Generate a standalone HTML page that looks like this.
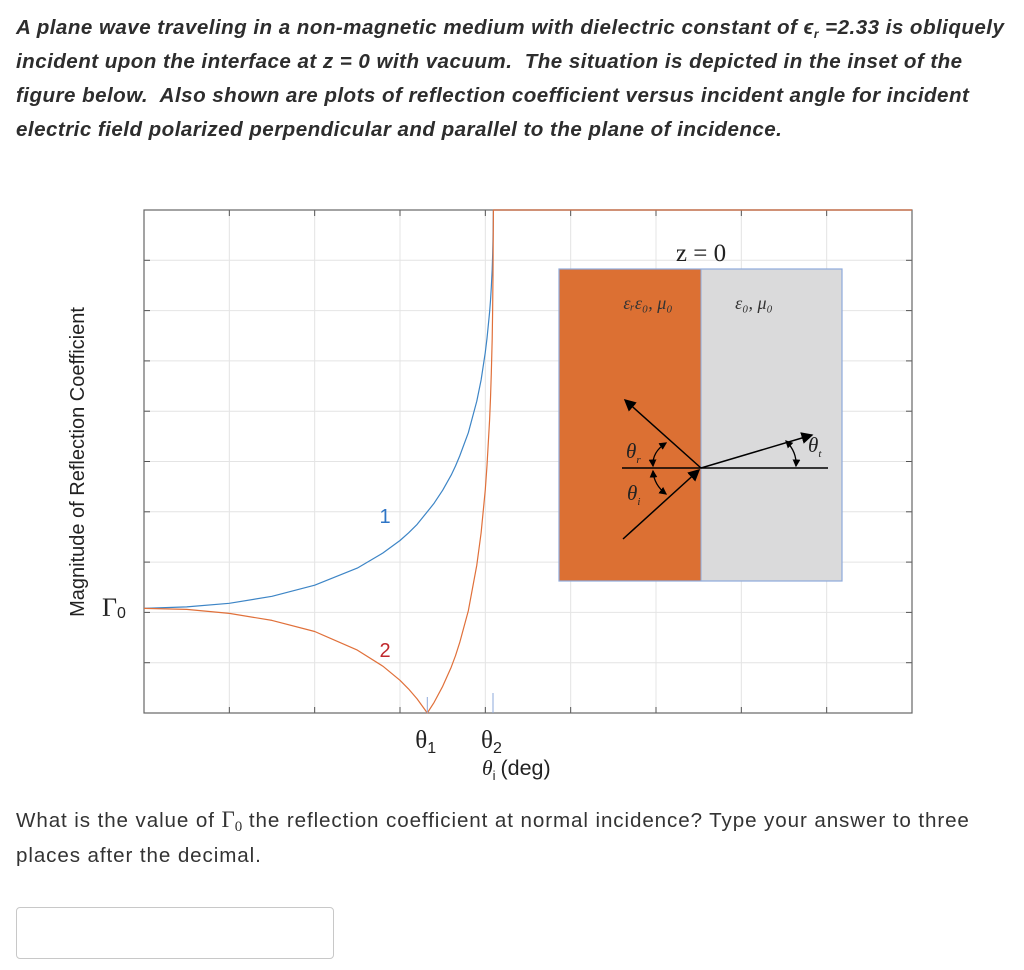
<!DOCTYPE html>
<html><head><meta charset="utf-8"><style>
body{margin:0;width:1024px;height:970px;background:#fff;font-family:"Liberation Sans",sans-serif;color:#333;position:relative;overflow:hidden}
.hdr{position:absolute;left:16px;top:11px;width:1006px;font-size:20.6px;letter-spacing:0.45px;font-weight:bold;font-style:italic;line-height:34px;color:#2d2d2d}
.hdr sub{font-size:12px;line-height:0;vertical-align:-4px}
.q{position:absolute;left:16px;top:802px;width:1000px;font-size:20.6px;letter-spacing:0.9px;line-height:35px;color:#333}
.q sub{line-height:0;vertical-align:-4px}
.inp{position:absolute;left:16px;top:907px;width:318px;height:52px;border:1px solid #c8c8c8;border-radius:4px;box-sizing:border-box}
</style></head><body>
<div class="hdr">A plane wave traveling in a non-magnetic medium with dielectric constant of ϵ<sub>r</sub> =2.33 is obliquely incident upon the interface at z = 0 with vacuum.&nbsp; The situation is depicted in the inset of the figure below.&nbsp; Also shown are plots of reflection coefficient versus incident angle for incident electric field polarized perpendicular and parallel to the plane of incidence.</div>
<svg id="chart" width="1024" height="800" style="position:absolute;left:0;top:0" xmlns="http://www.w3.org/2000/svg"></svg>
<div class="q">What is the value of <span style="font-family:'Liberation Serif',serif;font-size:23px;letter-spacing:0">Γ<sub style="font-size:15px">0</sub></span> the reflection coefficient at normal incidence? Type your answer to three places after the decimal.</div>
<div class="inp"></div>
<script>
const angles=[0,5,10,15,20,25,28,30,31,32,33.2,34,35,36,36.5,37,38,39,39.5,40,40.2,40.5,40.6,40.7,40.8,40.85,40.9,40.95,45,60,75,90];
const perpVals=[0.208,0.211,0.218,0.232,0.254,0.288,0.318,0.343,0.358,0.375,0.40,0.417,0.443,0.473,0.491,0.511,0.557,0.620,0.662,0.717,0.745,0.797,0.820,0.846,0.882,0.907,0.942,1,1,1,1,1];
const parVals=[0.208,0.206,0.198,0.184,0.162,0.125,0.093,0.065,0.048,0.028,0,0.021,0.053,0.091,0.114,0.140,0.203,0.294,0.358,0.444,0.492,0.583,0.626,0.675,0.744,0.796,0.871,1,1,1,1,1];
const xTicks=[0,10,20,30,40,50,60,70,80,90];
const yTicks=[0,0.1,0.2,0.3,0.4,0.5,0.6,0.7,0.8,0.9,1.0];
const markers=[33.2,40.9];
const NS="http://www.w3.org/2000/svg";
const svg=document.getElementById('chart');
const X0=144,X1=912,Y0=713,Y1=210;
const xs=v=>X0+(v/90)*(X1-X0);
const ys=v=>Y0-v*(Y0-Y1);
function mk(t,a,p){const e=document.createElementNS(NS,t);for(const k in a)e.setAttribute(k,a[k]);(p||svg).appendChild(e);return e;}
const grid=mk('g',{});


xTicks.forEach(t=>{const x=xs(t);
 const l=mk('line',{x1:x,x2:x,y1:Y1,y2:Y0,stroke:'#e4e4e4','stroke-width':1},grid);
 
 
 const a=mk('line',{x1:x,x2:x,y1:Y0,y2:Y0-6,stroke:'#555'},grid);
 
 
 const b=mk('line',{x1:x,x2:x,y1:Y1,y2:Y1+6,stroke:'#555'},grid);
 
 
});
yTicks.forEach(t=>{const y=ys(t);
 const l=mk('line',{x1:X0,x2:X1,y1:y,y2:y,stroke:'#e4e4e4'},grid);
 
 
 const a=mk('line',{x1:X0,x2:X0+6,y1:y,y2:y,stroke:'#555'},grid);
 
 
 const b=mk('line',{x1:X1,x2:X1-6,y1:y,y2:y,stroke:'#555'},grid);
 
 
});
const frame=mk('rect',{x:X0,y:Y1,width:X1-X0,height:Y0-Y1,fill:'none',stroke:'#666','stroke-width':1.2});


const inset=mk('g',{});


mk('rect',{x:559,y:269,width:142,height:312,fill:'#dc7033'},inset);
mk('rect',{x:701,y:269,width:141,height:312,fill:'#dadadb'},inset);
mk('rect',{x:559,y:269,width:283,height:312,fill:'none',stroke:'#8eaadb','stroke-width':1.2},inset);
mk('line',{x1:701,x2:701,y1:269,y2:581,stroke:'#8eaadb'},inset);
const zt=mk('text',{x:701,y:261,'text-anchor':'middle','font-family':'Liberation Serif,serif','font-size':25,fill:'#222'},inset);zt.textContent='z = 0';


const t1=mk('text',{x:648,y:309,'text-anchor':'middle','font-family':'Liberation Serif,serif','font-style':'italic','font-size':18,fill:'#333'},inset);t1.textContent='εᵣε₀, μ₀';


const t2=mk('text',{x:754,y:309,'text-anchor':'middle','font-family':'Liberation Serif,serif','font-style':'italic','font-size':18,fill:'#333'},inset);t2.textContent='ε₀, μ₀';


const defs=mk('defs',{});
const m=mk('marker',{id:'ah',markerWidth:8,markerHeight:8,refX:7,refY:4,orient:'auto'},defs);
mk('path',{d:'M0,0 L8,4 L0,8 z',fill:'#000'},m);
const m2=mk('marker',{id:'ah2',markerWidth:6,markerHeight:6,refX:5,refY:3,orient:'auto-start-reverse'},defs);
mk('path',{d:'M0,0 L6,3 L0,6 z',fill:'#000'},m2);
mk('line',{x1:622,x2:828,y1:468,y2:468,stroke:'#000','stroke-width':1.5},inset);
mk('line',{x1:701,y1:468,x2:625,y2:400,stroke:'#000','stroke-width':1.5,'marker-end':'url(#ah)'},inset);
mk('line',{x1:623,y1:539,x2:699,y2:470,stroke:'#000','stroke-width':1.5,'marker-end':'url(#ah)'},inset);
mk('line',{x1:701,y1:468,x2:812,y2:435,stroke:'#000','stroke-width':1.5,'marker-end':'url(#ah)'},inset);
mk('path',{d:'M666,443 Q652,452 653,466',fill:'none',stroke:'#000','stroke-width':1.3,'marker-start':'url(#ah2)','marker-end':'url(#ah2)'},inset);
mk('path',{d:'M653,471 Q654,485 666,494',fill:'none',stroke:'#000','stroke-width':1.3,'marker-start':'url(#ah2)','marker-end':'url(#ah2)'},inset);
mk('path',{d:'M786,441 Q797,452 796,466',fill:'none',stroke:'#000','stroke-width':1.3,'marker-start':'url(#ah2)','marker-end':'url(#ah2)'},inset);
[['θ',626,458,'r'],['θ',627,500,'i'],['θ',808,452,'t']].forEach(a=>{const t=mk('text',{x:a[1],y:a[2],'font-family':'Liberation Serif,serif','font-style':'italic','font-size':21,fill:'#222'},inset);t.textContent=a[0];const s=mk('tspan',{'font-size':11,dy:5},t);s.textContent=a[3];
 
 });
function path(vals){return angles.map((a,i)=>(i?'L':'M')+xs(a).toFixed(1)+','+ys(vals[i]).toFixed(1)).join(' ');}
const c1=mk('path',{d:path(perpVals),fill:'none',stroke:'#3d85c6','stroke-width':1.2,'stroke-linejoin':'round'});


const c2=mk('path',{d:path(parVals),fill:'none',stroke:'#e0703a','stroke-width':1.2,'stroke-linejoin':'round'});


markers.forEach((a,i)=>{const l=mk('line',{x1:xs(a),x2:xs(a),y1:Y0,y2:Y0-(i?20:16),stroke:'#8eaadb','stroke-width':1});
 
 });
const l1=mk('text',{x:385,y:523,'text-anchor':'middle','font-size':20,fill:'#2e75c6'});l1.textContent='1';


const l2=mk('text',{x:385,y:657,'text-anchor':'middle','font-size':20,fill:'#c0282c'});l2.textContent='2';


const g0=mk('text',{x:102,y:616,'font-family':'Liberation Serif,serif','font-size':26,fill:'#222'});g0.textContent='Γ';
const g0s=mk('tspan',{'font-family':'Liberation Sans,sans-serif','font-size':16,dy:2},g0);g0s.textContent='0';


const yt=mk('text',{x:0,y:0,transform:'translate(84,462) rotate(-90)','text-anchor':'middle','font-size':20,fill:'#222'});yt.textContent='Magnitude of Reflection Coefficient';


[['θ',xs(markers[0]),'1'],['θ',xs(markers[1]),'2']].forEach(a=>{const t=mk('text',{x:a[1]-12,y:748,'font-family':'Liberation Serif,serif','font-size':25,fill:'#222'});t.textContent=a[0];const s=mk('tspan',{'font-family':'Liberation Sans,sans-serif','font-size':16,dy:5},t);s.textContent=a[2];
 
 });
const xt=mk('text',{x:482,y:775,'font-size':21.5,fill:'#222'});
const xi=mk('tspan',{'font-family':'Liberation Serif,serif','font-style':'italic'},xt);xi.textContent='θ';
const xs2=mk('tspan',{'font-size':13,dy:5},xt);xs2.textContent='i';
const xr=mk('tspan',{dy:-5,dx:5},xt);xr.textContent='(deg)';


</script>
</body></html>
